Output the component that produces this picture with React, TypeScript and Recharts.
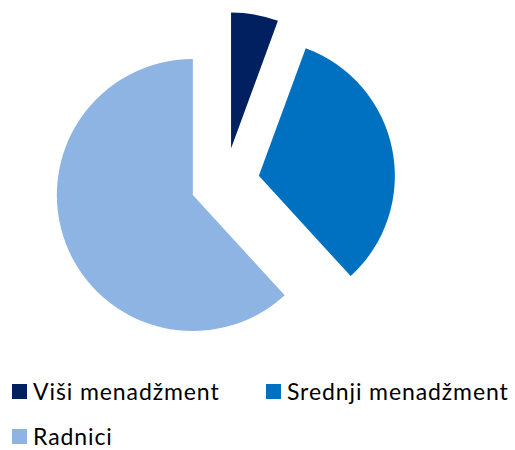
import { PieChart, Pie, Cell, Legend } from 'recharts';

const categories = ['Viši menadžment', 'Srednji menadžment', 'Radnici'];
const shares = [5.6, 32.6, 61.8];
const colors = ['#002060', '#0070C0', '#8EB4E3'];

const WIDTH = 515;
const HEIGHT = 450;
const CX = 225;
const CY = 182.5;
const RADIUS = 136;
const EXPLODE = 34.5;

const pieData = categories.map((name, i) => ({ name, value: shares[i] }));

// every slice is pulled out along its own middle angle
const total = shares.reduce((a, b) => a + b, 0);
let acc = 0;
const offsets = shares.map((v) => {
  const mid = ((acc + v / 2) / total) * 2 * Math.PI;
  acc += v;
  return { dx: Math.sin(mid) * EXPLODE, dy: -Math.cos(mid) * EXPLODE };
});

const itemWidths = [254, 249, 254];

const LegendBox = () => (
  <div
    style={{
      display: 'flex',
      flexWrap: 'wrap',
      fontFamily: 'Lato, sans-serif',
      fontSize: 23,
      letterSpacing: 0.9,
      color: '#000',
      paddingLeft: 12,
      rowGap: 21,
      boxSizing: 'border-box',
      width: WIDTH,
    }}
  >
    {categories.map((name, i) => (
      <div
        key={name}
        style={{
          display: 'flex',
          alignItems: 'center',
          width: itemWidths[i],
          height: 24,
          whiteSpace: 'nowrap',
        }}
      >
        <span
          style={{
            display: 'inline-block',
            width: 15,
            height: 15,
            background: colors[i],
            marginRight: 6,
          }}
        />
        <span style={{ display: 'inline-block', lineHeight: '18px', height: 18 }}>
          {name}
        </span>
      </div>
    ))}
  </div>
);

export default function App() {
  return (
    <div style={{ position: 'absolute', left: 0, top: 0, background: '#fff' }}>
      <PieChart
        width={WIDTH}
        height={HEIGHT}
        margin={{ top: 0, right: 0, bottom: 0, left: 0 }}
      >
        {categories.map((name, idx) => (
          <Pie
            key={name}
            name={name}
            data={pieData}
            dataKey="value"
            cx={CX + offsets[idx].dx}
            cy={CY + offsets[idx].dy}
            outerRadius={RADIUS}
            startAngle={90}
            endAngle={-270}
            stroke="none"
            isAnimationActive={false}
          >
            {pieData.map((d, i) => (
              <Cell key={d.name} fill={i === idx ? colors[i] : 'none'} />
            ))}
          </Pie>
        ))}
        <Legend
          content={() => <LegendBox />}
          wrapperStyle={{ left: 0, top: 379, width: WIDTH }}
        />
      </PieChart>
    </div>
  );
}
